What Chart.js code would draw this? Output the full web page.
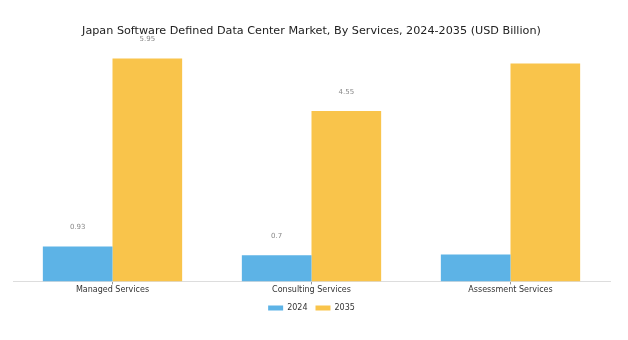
<!DOCTYPE html>
<html>
<head>
<meta charset="utf-8">
<script src="https://cdn.jsdelivr.net/npm/chart.js@4.4.1/dist/chart.umd.min.js"></script>
<style>
  html, body { margin: 0; padding: 0; background: #fff; }
  #wrap { width: 628px; height: 340px; }
</style>
</head>
<body>
<div id="wrap"><canvas id="chart"></canvas></div>
<script>
// Data
const categories = ['Managed Services', 'Consulting Services', 'Assessment Services'];
const values2024 = [0.93, 0.7, 0.72];
const values2035 = [5.95, 4.55, 5.82];
// labels printed above bars (null = no label)
const labels2024 = ['0.93', '0.7', null];
const labels2035 = ['5.95', '4.55', null];

const FONT = "'DejaVu Sans', sans-serif";

// Value labels above bars
const barLabels = {
    id: 'barLabels',
    afterDatasetsDraw(chart) {
        const ctx = chart.ctx;
        const texts = [labels2024, labels2035];
        ctx.save();
        ctx.font = '7px ' + FONT;
        ctx.fillStyle = '#888';
        ctx.textAlign = 'center';
        ctx.textBaseline = 'middle';
        chart.data.datasets.forEach((ds, i) => {
            chart.getDatasetMeta(i).data.forEach((bar, j) => {
                const t = texts[i][j];
                if (t) ctx.fillText(t, bar.x, bar.y - 19);
            });
        });
        ctx.restore();
    }
};

const ctx = document.getElementById('chart').getContext('2d');
const chart = new Chart(ctx, {
    type: 'bar',
    data: {
        labels: categories,
        datasets: [
            { label: '2024', data: values2024, backgroundColor: '#5DB3E6' },
            { label: '2035', data: values2035, backgroundColor: '#F9C44B' }
        ]
    },
    options: {
        responsive: true,
        maintainAspectRatio: false,
        animation: false,
        layout: { padding: { left: 13, right: 18, top: 0, bottom: 18 } },
        datasets: { bar: { categoryPercentage: 0.7, barPercentage: 1.0 } },
        scales: {
            y: { display: false, min: 0, max: 6.3 },
            x: {
                grid: { display: true, drawOnChartArea: false, offset: false, color: '#999', tickLength: 3 },
                border: { color: '#ddd' },
                ticks: { color: '#333', font: { family: FONT, size: 8 }, padding: 1 }
            }
        },
        plugins: {
            title: {
                display: true,
                text: 'Japan Software Defined Data Center Market, By Services, 2024-2035 (USD Billion)',
                color: '#222',
                font: { family: FONT, size: 11.2, weight: 'normal' },
                padding: { top: 24, bottom: 8 }
            },
            legend: {
                position: 'bottom',
                labels: {
                    color: '#333',
                    font: { family: FONT, size: 8 },
                    boxWidth: 15,
                    boxHeight: 5,
                    padding: 8
                }
            },
            tooltip: { enabled: false }
        }
    },
    plugins: [barLabels]
});
</script>
</body>
</html>
